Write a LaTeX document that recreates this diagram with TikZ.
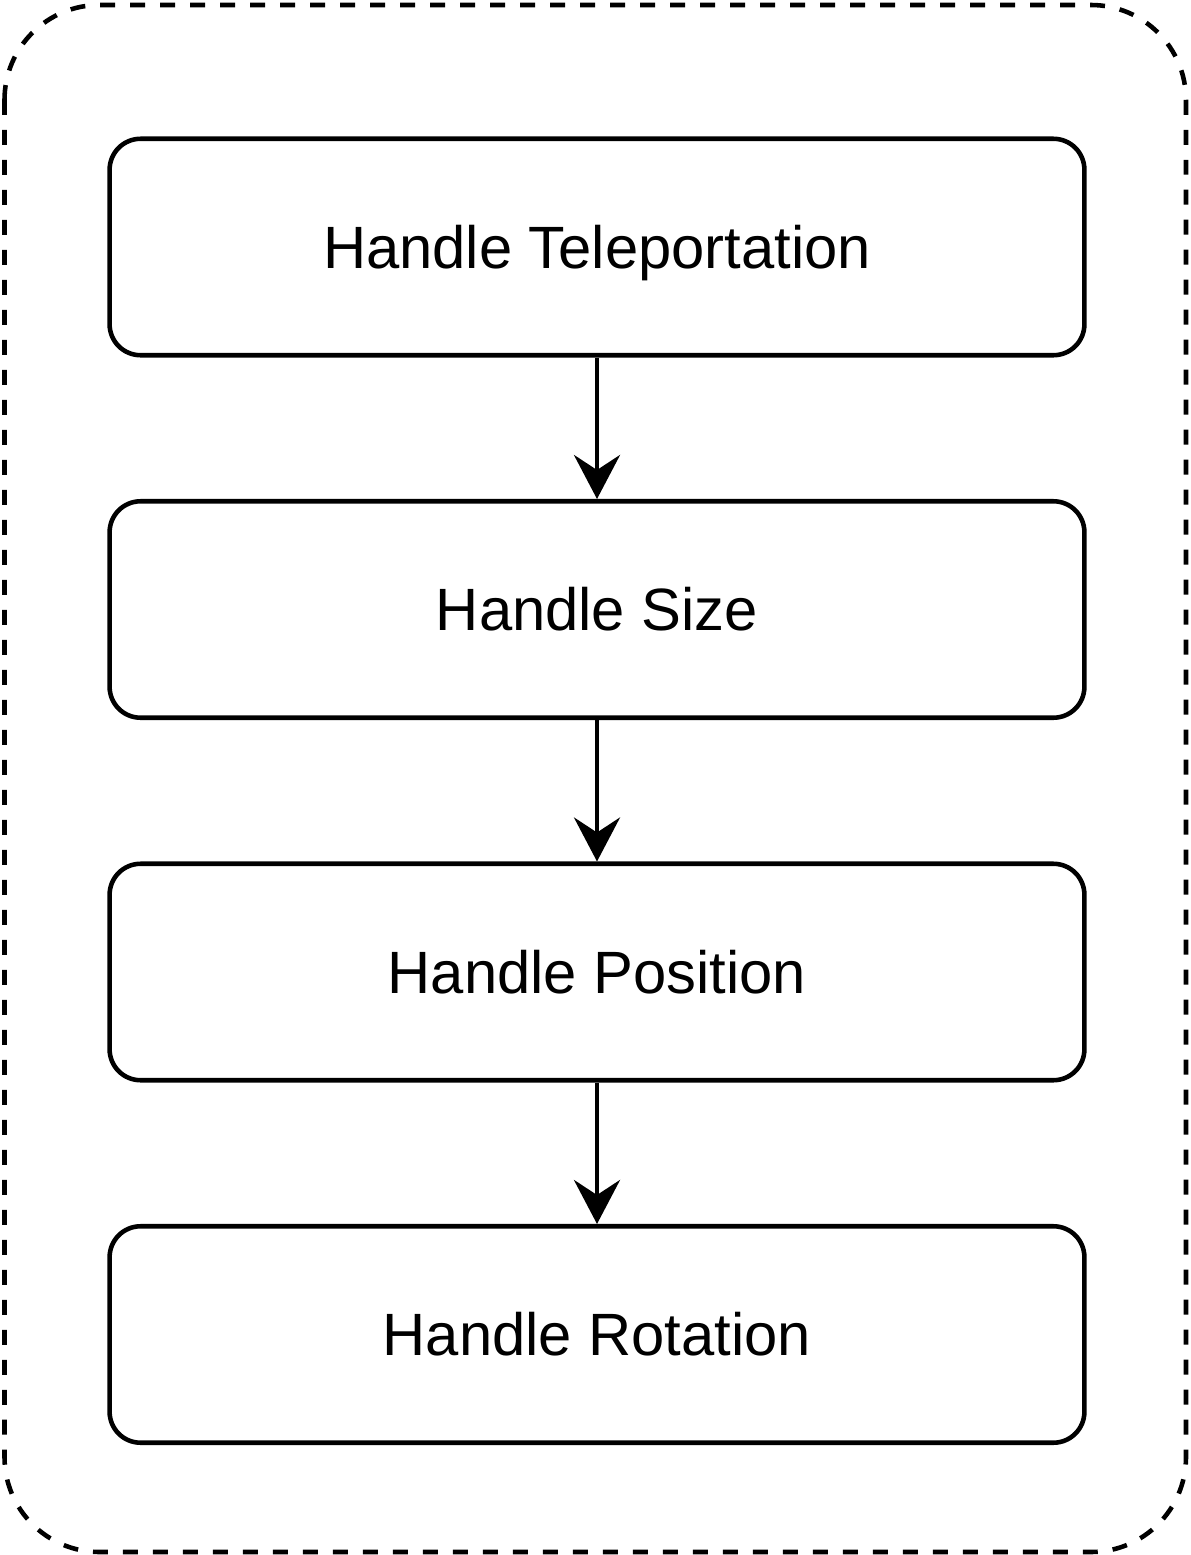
\documentclass[tikz,border=0pt]{standalone}
\usepackage{fontspec}
\setmainfont{Liberation Sans}
\usetikzlibrary{positioning,arrows.meta}

\begin{document}
\begin{tikzpicture}[
  x=0.02cm, y=-0.02cm,
  node distance=2.83cm,
  stagebox/.style={draw, line width=2.6pt, rounded corners=0.62cm, minimum height=4.33cm, minimum width=19.5cm,
    text height=24.4pt, text depth=0pt, font=\fontsize{34}{40}\selectfont},
  arrow/.style={-{Stealth[length=0.88cm, width=0.92cm, inset=0.3cm]}, line width=2.6pt}
]
\useasboundingbox (0,0) rectangle (1190,1555);
\draw[line width=2.6pt, dash pattern=on 0.3cm off 0.3cm, rounded corners=1.9cm] (4.5,5) rectangle (1186,1552);

\node[stagebox] (tele) at (597,247) {Handle Teleportation};
\node[stagebox, below=of tele] (size) {Handle Size};
\node[stagebox, below=of size] (pos)  {Handle Position};
\node[stagebox, below=of pos]  (rot)  {Handle Rotation};

\draw[arrow] (tele) -- (size);
\draw[arrow] (size) -- (pos);
\draw[arrow] (pos) -- (rot);
\end{tikzpicture}
\end{document}
